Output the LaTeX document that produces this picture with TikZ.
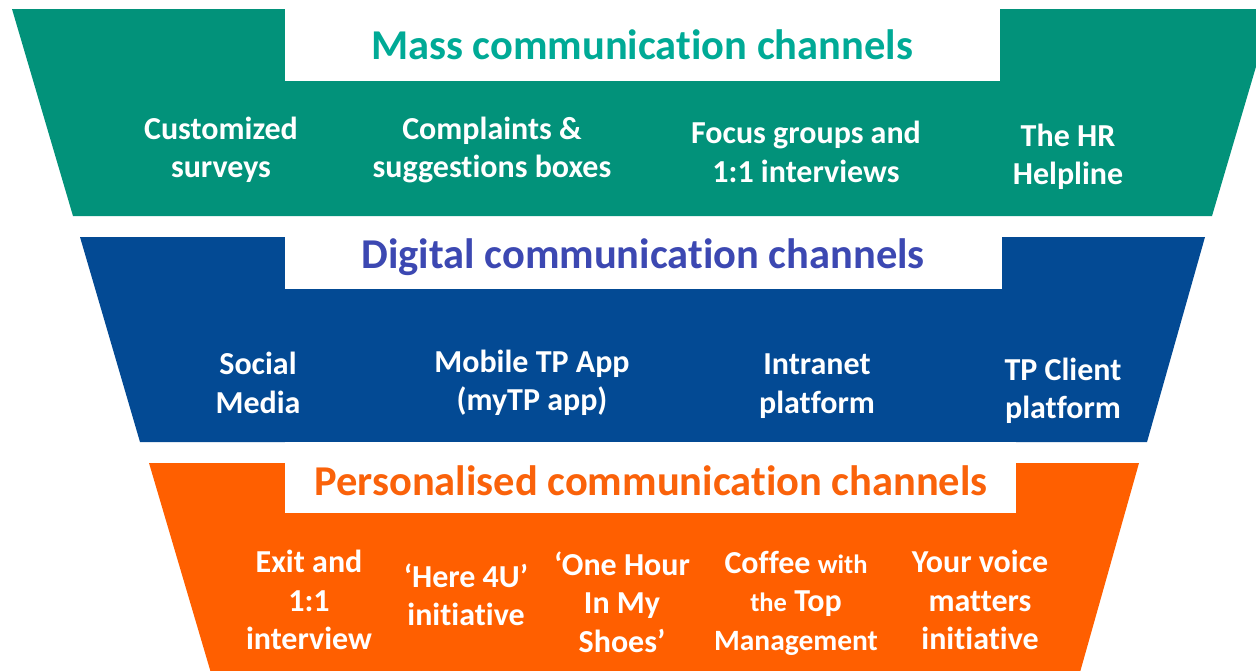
\documentclass[tikz,border=0pt]{standalone}
\usepackage{fontspec}
\setmainfont{Carlito}[Ligatures=NoCommon]
\definecolor{massfill}{RGB}{2,146,122}
\definecolor{masstext}{RGB}{0,170,150}
\definecolor{digifill}{RGB}{3,74,148}
\definecolor{digitext}{RGB}{60,72,178}
\definecolor{persfill}{RGB}{255,95,0}
\definecolor{perstext}{RGB}{250,98,10}
\begin{document}
\begin{tikzpicture}[x=1pt,y=-1pt,
    item/.style={text=white,align=center,font=\fontsize{32}{38.5}\selectfont\bfseries},
    head/.style={font=\fontsize{42.5}{50}\selectfont\bfseries}]
    \useasboundingbox (0,0) rectangle (1256,670);
    \clip (0,0) rectangle (1256,670);
    \fill[massfill] (12,9) -- (1273,9) -- (1212,216) -- (73,216) -- cycle;
    \fill[digifill] (80,237) -- (1205,237) -- (1147,442) -- (140,442) -- cycle;
    \fill[persfill] (149,463) -- (1139,463) -- (1075,690) -- (216,690) -- cycle;
    \fill[white] (285,9) rectangle (1000,81);
    \fill[white] (285,237) rectangle (1002,289);
    \fill[white] (285,442) rectangle (1016,513);
    \node[head,text=masstext] (masshead) at (642,45) {Mass communication channels};
    \node[head,text=digitext] (digihead) at (643,257) {Digital communication channels};
    \node[head,text=perstext] (pershead) at (651,481) {Personalised communication channels};
    \node[item] (surveys) at (221,150) {Customized\\surveys};
    \node[item] (boxes) at (492,150) {Complaints \&\\suggestions boxes};
    \node[item] (focus) at (806,152) {Focus groups and\\1:1 interviews};
    \node[item] (helpline) at (1068,157) {The HR\\Helpline};
    \node[item] (social) at (258,383) {Social\\Media};
    \node[item] (mobile) at (532,383) {Mobile TP App\\(myTP app)};
    \node[item] (intranet) at (817,386) {Intranet\\platform};
    \node[item] (client) at (1063,391) {TP Client\\platform};
    \node[item] (exit) at (309,600) {Exit and\\1:1\\interview};
    \node[item] (here) at (466,595) {‘Here 4U’\\initiative};
    \node[item] (hour) at (622,602) {‘One Hour\\In My\\Shoes’};
    \node[item] (coffee) at (796,603) {Coffee {\fontsize{26.5}{38.5}\selectfont with}\\{\fontsize{26.5}{38.5}\selectfont the} Top\\{\fontsize{29.5}{38.5}\selectfont Management}};
    \node[item] (voice) at (980,600) {Your voice\\matters\\initiative};
\end{tikzpicture}
\end{document}
